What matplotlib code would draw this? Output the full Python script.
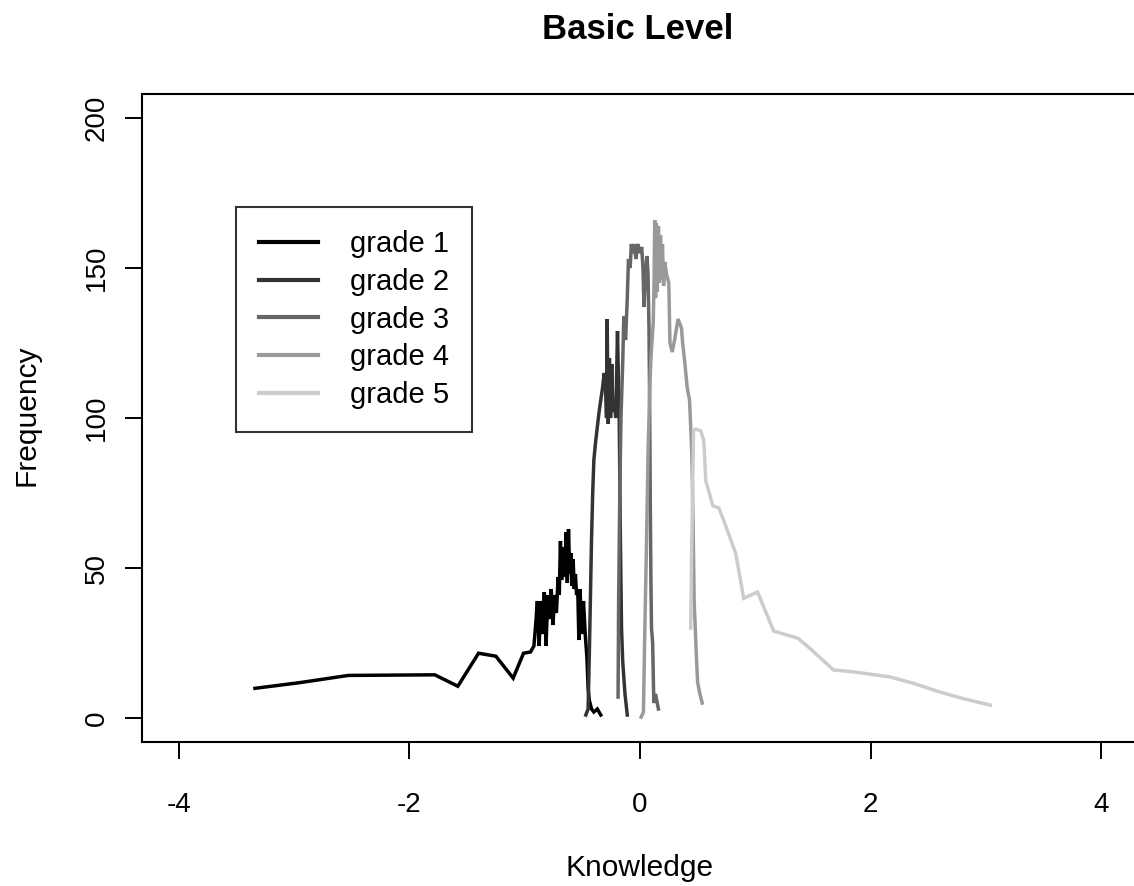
import numpy as np
import matplotlib
matplotlib.use("Agg")
import matplotlib.pyplot as plt

plt.rcParams['font.family'] = ['Liberation Sans', 'DejaVu Sans']
plt.rcParams['axes.unicode_minus'] = False

# Frequency of knowledge estimates per grade
grade1_x = [-3.34, -2.95, -2.53, -1.78, -1.58, -1.40, -1.25, -1.10, -1.06, -1.01, -0.95,
            -0.92, -0.905, -0.89, -0.875, -0.86, -0.845, -0.83, -0.815, -0.80, -0.785,
            -0.77, -0.755, -0.74, -0.725, -0.71, -0.70, -0.69, -0.68, -0.665, -0.65,
            -0.64, -0.63, -0.62, -0.61, -0.60, -0.59, -0.58, -0.57, -0.56, -0.55,
            -0.54, -0.53, -0.52, -0.505, -0.49, -0.475, -0.46, -0.45, -0.44, -0.42,
            -0.40, -0.37, -0.34]
grade1_y = [9.9, 11.8, 14.2, 14.4, 10.6, 21.6, 20.6, 13.3, 17, 21.6, 22,
            24, 31, 39, 24, 39, 28, 42, 24, 41, 33,
            43, 31, 41, 35, 47, 41, 59, 46, 57, 47,
            62, 45, 63, 48, 55, 44, 53, 43, 48, 41,
            43, 26, 43, 28, 39, 28, 20, 10, 6, 3,
            2, 3, 1]

grade2_x = [-0.47, -0.45, -0.44, -0.43, -0.42, -0.41, -0.40, -0.385, -0.37, -0.355,
            -0.34, -0.325, -0.31, -0.30, -0.29, -0.285, -0.275, -0.265, -0.255, -0.245,
            -0.235, -0.225, -0.21, -0.195, -0.18, -0.17, -0.16, -0.15, -0.13, -0.11]
grade2_y = [1, 3, 20, 40, 60, 75, 86, 92, 97, 102,
            106, 110, 115, 112, 100, 133, 98, 120, 100, 118,
            102, 106, 100, 129, 100, 60, 30, 19, 8, 1]

grade3_x = [-0.19, -0.185, -0.175, -0.165, -0.15, -0.14, -0.125, -0.11, -0.10, -0.085,
            -0.075, -0.06, -0.05, -0.035, -0.02, 0.0, 0.015, 0.026, 0.035, 0.05,
            0.061, 0.07, 0.078, 0.085, 0.09, 0.095, 0.10, 0.11, 0.115, 0.12,
            0.135, 0.16]
grade3_y = [7, 40, 75, 100, 118, 134, 126, 140, 153, 150,
            158, 155, 158, 153, 158, 155, 157, 150, 137, 150,
            154, 148, 130, 100, 70, 46, 30, 25, 15, 5,
            8, 3]

grade4_x = [0.01, 0.03, 0.04, 0.055, 0.07, 0.085, 0.095, 0.105, 0.115, 0.122,
            0.128, 0.135, 0.142, 0.15, 0.16, 0.168, 0.178, 0.186, 0.195, 0.205,
            0.215, 0.23, 0.25, 0.26, 0.28, 0.30, 0.33, 0.36, 0.37, 0.39,
            0.41, 0.43, 0.45, 0.46, 0.47, 0.49, 0.50, 0.52, 0.54]
grade4_y = [0.3, 2, 25, 55, 88, 110, 120, 126, 132, 145,
            166, 140, 165, 142, 164, 145, 161, 146, 158, 144,
            152, 148, 145, 125, 122, 126, 133, 130, 125, 118,
            110, 106, 88, 67, 39, 20, 12, 8, 5]

grade5_x = [0.44, 0.45, 0.465, 0.485, 0.528, 0.554, 0.571, 0.632, 0.684, 0.727,
            0.831, 0.90, 1.02, 1.16, 1.37, 1.48, 1.68, 1.85, 2.17, 2.37,
            2.60, 2.80, 3.04]
grade5_y = [30, 60, 96, 96.3, 95.7, 92.4, 79, 70.8, 70, 65.8,
            54.8, 39.9, 42, 29, 26.6, 23, 16, 15.4, 13.7, 11.6,
            8.7, 6.5, 4.3]

labels = ["grade 1", "grade 2", "grade 3", "grade 4", "grade 5"]
colors = ["#000000", "#333333", "#666666", "#999999", "#cccccc"]
series = [(grade1_x, grade1_y), (grade2_x, grade2_y), (grade3_x, grade3_y),
          (grade4_x, grade4_y), (grade5_x, grade5_y)]

fig = plt.figure(figsize=(11.34, 8.86), dpi=100)
ax = fig.add_axes([0.1252, 0.1625, 0.8783, 0.7314])

for (xs, ys), col, lab in zip(series, colors, labels):
    ax.plot(xs, ys, color=col, linewidth=2.5, label=lab, solid_joinstyle="miter")

ax.set_xlim(-4.32, 4.32)
ax.set_ylim(-8, 208)
ax.set_xticks([-4, -2, 0, 2, 4])
ax.set_yticks([0, 50, 100, 150, 200])
ax.set_yticklabels(["0", "50", "100", "150", "200"], rotation=90, va="center")
ax.tick_params(axis="both", length=12, width=1.4, labelsize=20, color="black")
ax.tick_params(axis="x", pad=24)
ax.tick_params(axis="y", pad=11)
for sp in ax.spines.values():
    sp.set_linewidth(1.5)

ax.set_xlabel("Knowledge", fontsize=21.5)
ax.xaxis.set_label_coords(0.5, -0.194)
ax.xaxis.label.set_va("center")
ax.set_ylabel("Frequency", fontsize=21.5)
ax.yaxis.set_label_coords(-0.1155, 0.5046)
ax.yaxis.label.set_va("center")

fig.text(0.5626, 0.967, "Basic Level", fontsize=25, fontweight="bold",
         ha="center", va="center")

leg = ax.legend(loc="upper left", bbox_to_anchor=(0.0944, 0.8256), borderaxespad=0,
                fontsize=21, frameon=True, fancybox=False, handlelength=2.0,
                handletextpad=1.1, labelspacing=0.33, borderpad=0.8)
leg.get_frame().set_edgecolor("black")
leg.get_frame().set_linewidth(1.5)
for line in leg.get_lines():
    line.set_linewidth(3)

fig.savefig("out.png", dpi=100)
